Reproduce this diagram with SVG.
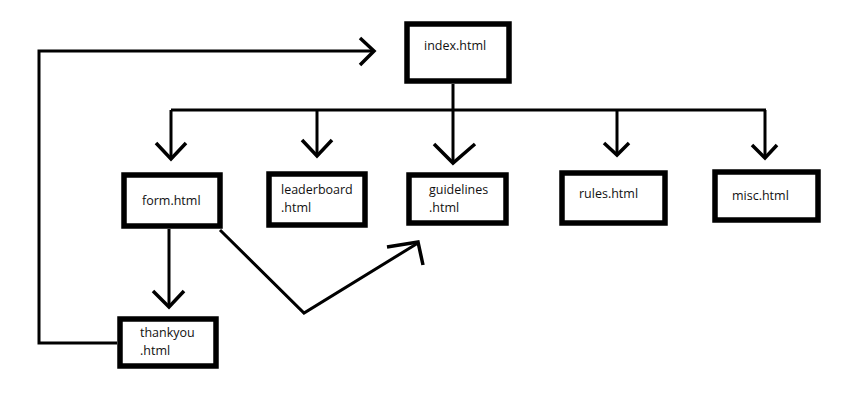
<svg xmlns="http://www.w3.org/2000/svg" width="844" height="402" viewBox="0 0 844 402">
<style>
.box{fill:#fff;stroke:#000;stroke-width:5.5}
.ln{fill:none;stroke:#000;stroke-width:3;stroke-linejoin:miter;stroke-linecap:butt}
.ah{fill:none;stroke:#000;stroke-width:3.5;stroke-linecap:butt;stroke-linejoin:miter}
text{font-family:"Open Sans","Noto Sans",sans-serif;font-size:12.5px;fill:#111}
</style>
<rect width="844" height="402" fill="#fff"/>
<g id="connectors">
<path class="ln" d="M453,84 V162"/>
<path class="ln" d="M171,110 H766"/>
<path class="ln" d="M171,110 V159"/>
<path class="ln" d="M317,110 V156"/>
<path class="ln" d="M617,110 V155"/>
<path class="ln" d="M765,110 V158"/>
<path class="ah" d="M156,143 L171,159 L186,143"/>
<path class="ah" d="M302,140 L317,156 L332,140"/>
<path class="ah" d="M434,144 L453,163 L475,144"/>
<path class="ah" d="M604,143 L617,155 L629,143"/>
<path class="ah" d="M752,145 L765,158 L777,145"/>
<path class="ln" d="M169,229 V307"/>
<path class="ah" d="M153,291 L169,307 L184,291"/>
<path class="ln" d="M117,343 H39 V51 H374"/>
<path class="ah" d="M360,38 L374,51 L360,65"/>
<path class="ln" d="M220,230 L304,313 L418,243"/>
<path class="ah" d="M387,247 L418,242 L423,265"/>
</g>
<g id="index"><rect class="box" x="407" y="24" width="102" height="57"/><text x="424" y="50">index.html</text></g>
<g id="form"><rect class="box" x="124" y="175" width="96" height="51"/><text x="142" y="205">form.html</text></g>
<g id="leaderboard"><rect class="box" x="269" y="174" width="96" height="51"/><text x="281" y="194">leaderboard</text><text x="281" y="212">.html</text></g>
<g id="guidelines"><rect class="box" x="409" y="175" width="97" height="48"/><text x="429" y="194">guidelines</text><text x="429" y="212">.html</text></g>
<g id="rules"><rect class="box" x="562" y="173" width="103" height="50"/><text x="579" y="198">rules.html</text></g>
<g id="misc"><rect class="box" x="715" y="172" width="103" height="48"/><text x="732" y="200">misc.html</text></g>
<g id="thankyou"><rect class="box" x="120" y="319" width="96" height="47"/><text x="140" y="337">thankyou</text><text x="140" y="355">.html</text></g>
</svg>
